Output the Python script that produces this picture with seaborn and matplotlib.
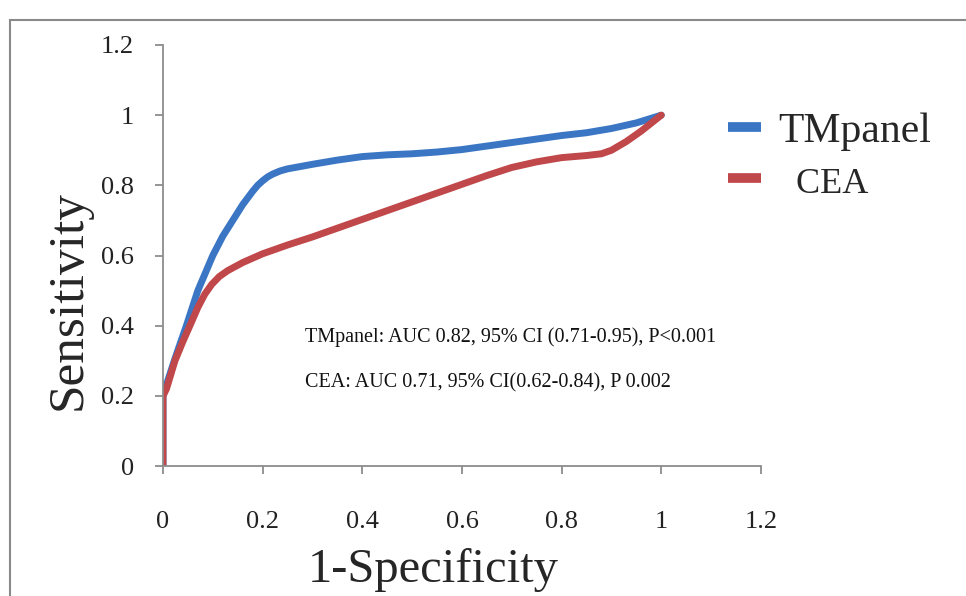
import matplotlib
matplotlib.use("Agg")
import matplotlib.pyplot as plt
import seaborn as sns
import pandas as pd
from matplotlib.patches import Rectangle

# values
tm_fpr = [0.0, 0.0, 0.01, 0.025, 0.047, 0.07, 0.1, 0.12, 0.14, 0.16, 0.18, 0.19, 0.2, 0.21, 0.22, 0.235, 0.25,
          0.3, 0.35, 0.4, 0.45, 0.5, 0.55, 0.6, 0.65, 0.7, 0.75, 0.8, 0.85, 0.9, 0.95, 1.0]
tm_tpr = [0.0, 0.2, 0.245, 0.31, 0.40, 0.50, 0.60, 0.655, 0.70, 0.745, 0.783, 0.8, 0.813, 0.824, 0.832, 0.841, 0.847,
          0.86, 0.872, 0.882, 0.887, 0.89, 0.895, 0.902, 0.912, 0.922, 0.932, 0.942, 0.95, 0.962, 0.978, 1.0]
cea_fpr = [0.0, 0.0, 0.007, 0.024, 0.04, 0.054, 0.07, 0.084, 0.098, 0.113, 0.13, 0.16, 0.2, 0.25, 0.3, 0.35,
           0.4, 0.45, 0.5, 0.55, 0.6, 0.65, 0.7, 0.75, 0.8, 0.85, 0.88, 0.9, 0.93, 0.96, 1.0]
cea_tpr = [0.0, 0.2, 0.22, 0.30, 0.355, 0.40, 0.452, 0.49, 0.518, 0.54, 0.557, 0.58, 0.605, 0.63, 0.653, 0.678,
           0.703, 0.728, 0.753, 0.778, 0.803, 0.828, 0.851, 0.867, 0.879, 0.885, 0.89, 0.9, 0.925, 0.955, 1.0]
labels = ["TMpanel", "CEA"]
colors = ["#3b76c4", "#c0474a"]
ann_lines = ["TMpanel: AUC 0.82, 95% CI (0.71-0.95), P<0.001",
             "CEA: AUC 0.71, 95% CI(0.62-0.84), P 0.002"]
ticks = [0, 0.2, 0.4, 0.6, 0.8, 1, 1.2]
tick_labels = ["0", "0.2", "0.4", "0.6", "0.8", "1", "1.2"]

df = pd.concat([
    pd.DataFrame({"fpr": tm_fpr, "tpr": tm_tpr, "model": labels[0]}),
    pd.DataFrame({"fpr": cea_fpr, "tpr": cea_tpr, "model": labels[1]}),
], ignore_index=True)

sns.set_style("ticks")
plt.rcParams["font.family"] = ["Liberation Serif", "DejaVu Serif"]

fig = plt.figure(figsize=(9.66, 5.96), dpi=100)
ax = fig.add_axes([0.1687, 0.218, 0.619, 0.7065])

sns.lineplot(data=df, x="fpr", y="tpr", hue="model", hue_order=labels, palette=colors,
             sort=False, estimator=None, lw=5, ax=ax, legend=False,
             solid_capstyle="round", solid_joinstyle="round")

ax.set_xlim(0, 1.2)
ax.set_ylim(0, 1.2)
ax.set_xticks(ticks)
ax.set_yticks(ticks)
ax.set_xticklabels(tick_labels)
ax.set_yticklabels(tick_labels)
for sp in ["top", "right"]:
    ax.spines[sp].set_visible(False)
for sp in ["left", "bottom"]:
    ax.spines[sp].set_color("#8c8c8c")
    ax.spines[sp].set_linewidth(1.3)
ax.tick_params(axis="both", colors="#8c8c8c", length=6, width=1.3, labelsize=19,
               labelcolor="#222222")
ax.tick_params(axis="x", pad=26)
ax.tick_params(axis="y", pad=15)

ax.set_xlabel("1-Specificity", fontsize=35)
ax.xaxis.set_label_coords(0.452, -0.195)
ax.set_ylabel("Sensitivity", fontsize=37)
ax.yaxis.set_label_coords(-0.12, 0.394)

ax.text(0.285, 0.367, ann_lines[0], fontsize=14.5, va="center", ha="left", color="#111111")
ax.text(0.285, 0.236, ann_lines[1], fontsize=14.5, va="center", ha="left", color="#111111")

handles = [plt.Line2D([], [], color=c, lw=7, solid_capstyle="butt") for c in colors]
leg = ax.legend(handles, [labels[0], "  " + labels[1]], loc="upper left",
                bbox_to_anchor=(0.945, 0.84), frameon=False,
                fontsize=30, handlelength=0.8, handletextpad=0.4, labelspacing=0.3,
                borderpad=0, borderaxespad=0)
leg.get_texts()[1].set_fontsize(26)

fig.patches.append(Rectangle((10 / 966, -0.1), 1.2, (596 - 20) / 596 + 0.1,
                             transform=fig.transFigure, fill=False,
                             edgecolor="#8a8a8a", lw=1.5))

fig.savefig("out.png", dpi=100)
